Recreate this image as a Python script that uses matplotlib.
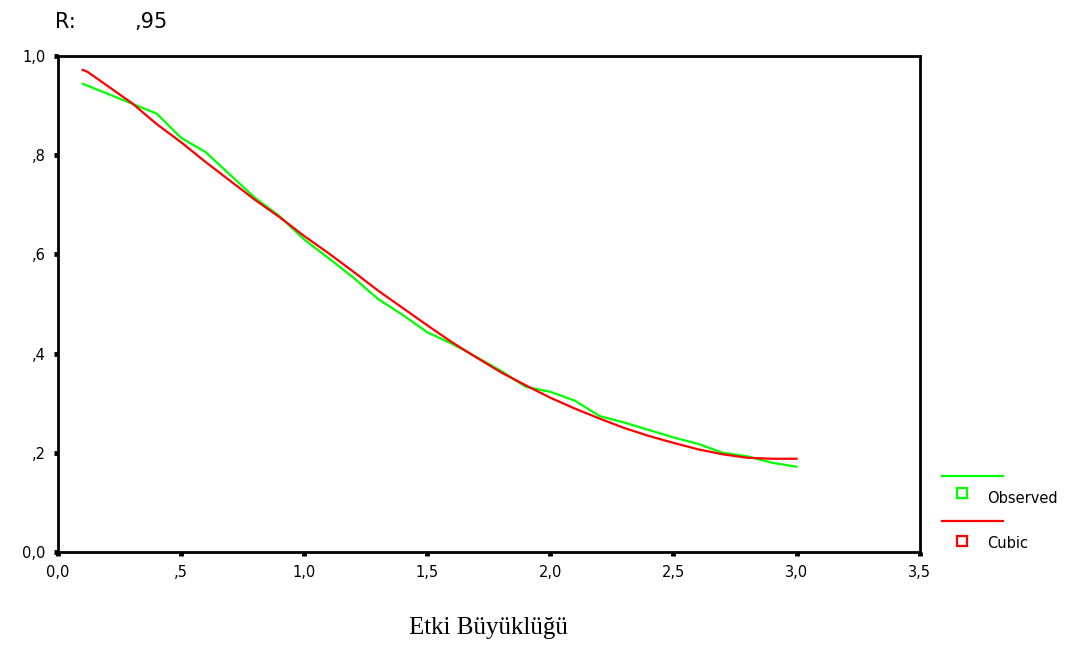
import matplotlib
matplotlib.use("Agg")
import matplotlib.pyplot as plt
from matplotlib.lines import Line2D

# observed values (green)
obs_x = [0.1, 0.4, 0.5, 0.6, 0.8, 0.9, 1.0, 1.1, 1.2, 1.3, 1.4, 1.5, 1.6, 1.7,
         1.8, 1.9, 2.0, 2.1, 2.2, 2.3, 2.4, 2.5, 2.6, 2.7, 2.8, 2.9, 3.0]
obs_y = [0.944, 0.884, 0.835, 0.806, 0.714, 0.677, 0.630, 0.592, 0.553, 0.510,
         0.478, 0.443, 0.420, 0.393, 0.365, 0.333, 0.323, 0.305, 0.274, 0.261,
         0.246, 0.231, 0.218, 0.200, 0.193, 0.180, 0.172]

# cubic fit (red)
cub_x = [0.1, 0.12, 0.2, 0.3, 0.4, 0.5, 0.6, 0.7, 0.8, 0.9, 1.0, 1.1, 1.2, 1.3,
         1.4, 1.5, 1.6, 1.7, 1.8, 1.9, 2.0, 2.1, 2.2, 2.3, 2.4, 2.5, 2.6, 2.7,
         2.8, 2.9, 3.0]
cub_y = [0.972, 0.968, 0.940, 0.905, 0.863, 0.826, 0.786, 0.748, 0.710, 0.675,
         0.637, 0.602, 0.565, 0.527, 0.492, 0.457, 0.423, 0.392, 0.362, 0.336,
         0.311, 0.289, 0.269, 0.250, 0.234, 0.220, 0.207, 0.197, 0.190, 0.188,
         0.188]

xticks = [0.0, 0.5, 1.0, 1.5, 2.0, 2.5, 3.0, 3.5]
xlabels = ["0,0", ",5", "1,0", "1,5", "2,0", "2,5", "3,0", "3,5"]
yticks = [0.0, 0.2, 0.4, 0.6, 0.8, 1.0]
ylabels = ["0,0", ",2", ",4", ",6", ",8", "1,0"]

fig = plt.figure(figsize=[10.67, 6.57], dpi=100)
ax = fig.add_axes([0.0544, 0.1598, 0.8075, 0.755])

ax.plot(obs_x, obs_y, color="#00ff00", linewidth=1.6)
ax.plot(cub_x, cub_y, color="#ff0000", linewidth=1.6)

ax.set_xlim(0, 3.5)
ax.set_ylim(0, 1.0)
ax.set_xticks(xticks)
ax.set_xticklabels(xlabels)
ax.set_yticks(yticks)
ax.set_yticklabels(ylabels)
ax.tick_params(direction="out", length=3, width=3.5, labelsize=10.5, pad=6)
for s in ax.spines.values():
    s.set_linewidth(2)

ax.set_xlabel("Etki Büyüklüğü", family="Liberation Serif", fontsize=18, labelpad=27)

fig.text(0.052, 0.967, "R:", fontsize=15, va="center")
fig.text(0.126, 0.967, ",95", fontsize=15, va="center")

# legend drawn by hand, outside the plot
fig.add_artist(Line2D([0.883, 0.940], [0.275, 0.275], color="#00ff00", linewidth=1.6))
fig.add_artist(Line2D([0.902], [0.249], marker="s", markersize=7, markerfacecolor="white",
                      markeredgecolor="#00ff00", markeredgewidth=1.6))
fig.text(0.925, 0.242, "Observed", fontsize=10.5, va="center")
fig.add_artist(Line2D([0.883, 0.940], [0.207, 0.207], color="#ff0000", linewidth=1.6))
fig.add_artist(Line2D([0.902], [0.177], marker="s", markersize=7, markerfacecolor="white",
                      markeredgecolor="#ff0000", markeredgewidth=1.6))
fig.text(0.925, 0.173, "Cubic", fontsize=10.5, va="center")

fig.savefig("out.png", dpi=100)
